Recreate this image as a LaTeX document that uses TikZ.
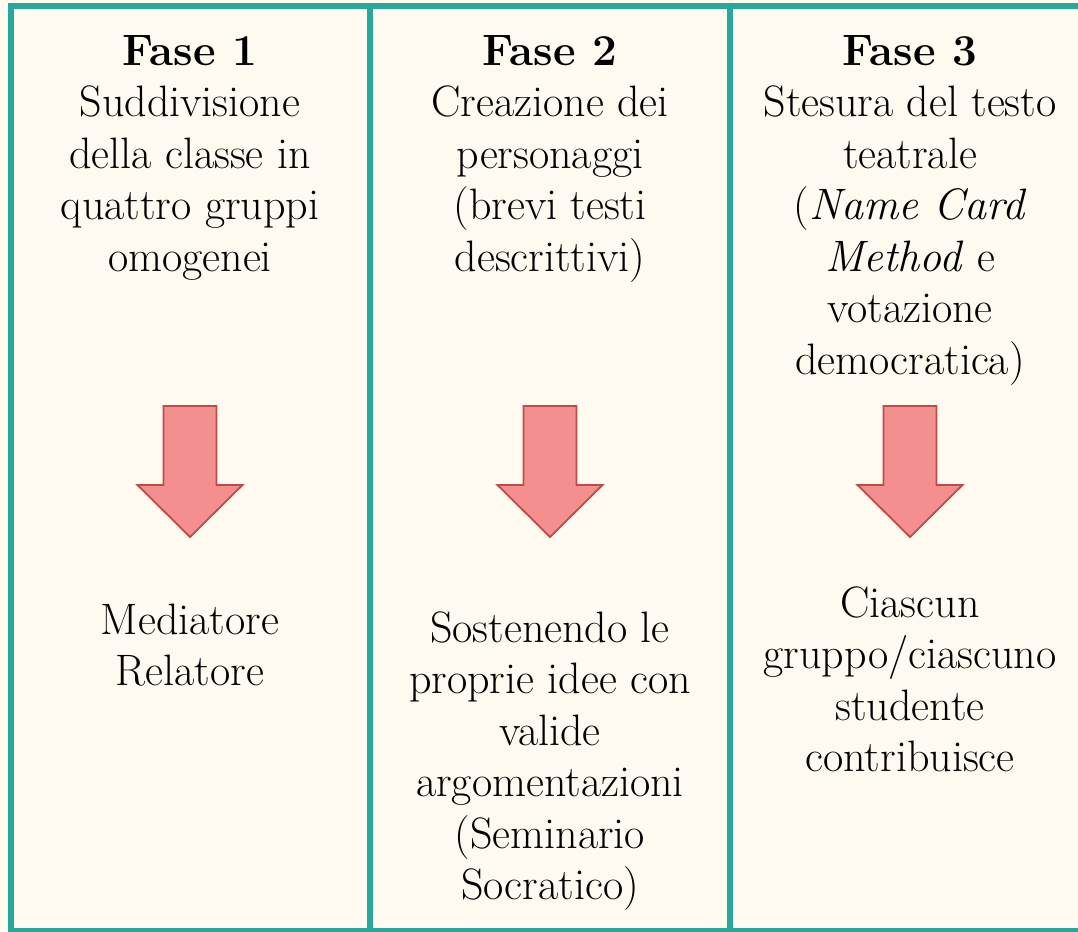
\documentclass[tikz,border=0pt]{standalone}
\usepackage{xcolor}
\usepackage{tikz}
\usetikzlibrary{positioning}
\definecolor{crema}{HTML}{FFFAEF}
\definecolor{verdeacqua}{HTML}{2AA79B}
\definecolor{rosa}{HTML}{F48F8F}
\definecolor{rossoscuro}{HTML}{BE4B48}
\tikzset{
  frecciagiu/.pic={
    \draw[frecciastile] (-26.5,0) -- (26.5,0) -- (26.5,79) -- (52.5,79) -- (0,131)
      -- (-52.5,79) -- (-26.5,79) -- cycle;
  }
}

\begin{document}
\begin{tikzpicture}[x=1pt,y=-1pt,
  testo/.style={anchor=north,align=center,inner sep=0pt,font=\fontsize{44}{51.5}\selectfont},
  cornice/.style={draw=verdeacqua,line width=6pt},
  frecciastile/.style={fill=rosa,draw=rossoscuro,line width=1.8pt,line join=miter}]
  \useasboundingbox (0,0) rectangle (1078,931);
  \fill[crema] (0,0) rectangle (1078,931);
  \clip (0,0) rectangle (1078,931);
  % cornice e colonne
  \draw[cornice] (11,6.5) rectangle (1090,931);
  \draw[cornice] (370,6.5) -- (370,931);
  \draw[cornice] (730,6.5) -- (730,931);
  % fasi
  \node[testo] (fase1) at (190,29) {\strut\textbf{Fase 1}\\Suddivisione\\della classe in\\quattro gruppi\\omogenei};
  \node[testo] (fase2) at (550,29) {\strut\textbf{Fase 2}\\Creazione dei\\personaggi\\(brevi testi\\descrittivi)};
  \node[testo] (fase3) at (910,29) {\strut\textbf{Fase 3}\\Stesura del testo\\teatrale\\(\textit{Name Card}\\\textit{Method} e\\votazione\\democratica)};
  % frecce
  \pic (f1) at (190,406) {frecciagiu};
  \pic (f2) at (550,406) {frecciagiu};
  \pic (f3) at (910,406) {frecciagiu};
  % risultati
  \node[testo] (esito1) at (190,598) {\strut Mediatore\\Relatore};
  \node[testo] (esito2) at (550,606) {\strut Sostenendo le\\proprie idee con\\valide\\argomentazioni\\(Seminario\\Socratico)};
  \node[testo] (esito3) at (910,581) {\strut Ciascun\\gruppo/ciascuno\\studente\\contribuisce};
\end{tikzpicture}
\end{document}
